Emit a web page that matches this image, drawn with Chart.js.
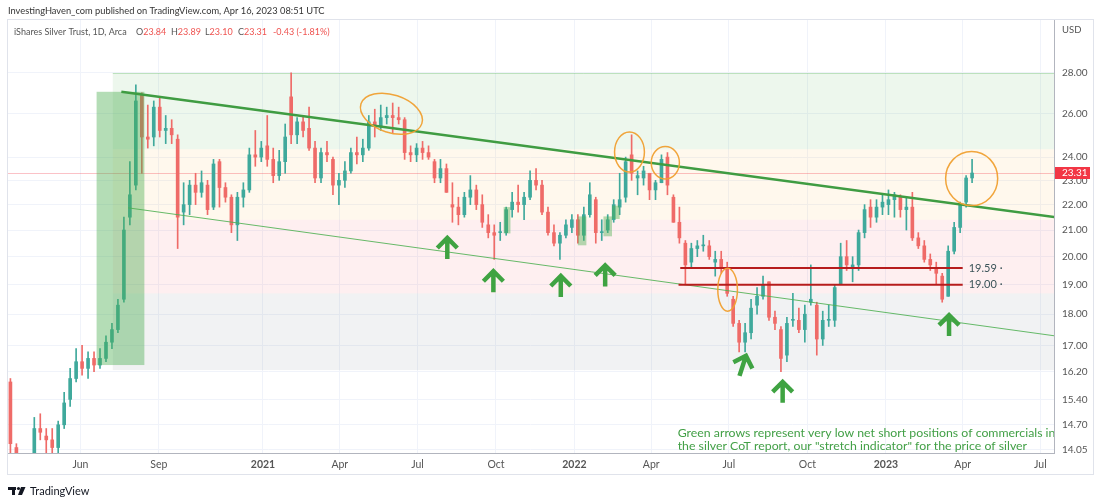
<!DOCTYPE html>
<html>
<head>
<meta charset="utf-8">
<script src="https://cdn.jsdelivr.net/npm/chart.js@4.4.1/dist/chart.umd.min.js"></script>
<style>
  html, body { margin: 0; padding: 0; background: #fff; }
  canvas { display: block; }
</style>
</head>
<body>
<canvas id="chart" width="1100" height="501"></canvas>
<script>
// weekly candles of SLV (iShares Silver Trust), week of 2020-03-09 .. week of 2023-04-10
const firstWeek = '2020-03-11';

const opens = [
  15.9, 14.1, 11.8, 13.2, 13.7, 14.6, 14.4, 14.3, 14.1, 14.7,
  15.4, 16.0, 16.5, 16.3, 16.6, 16.4, 16.6, 17.1, 17.5, 18.5,
  21.5, 22.8, 26.9, 24.9, 24.9, 26.3, 25.2, 25.3, 24.8, 21.7,
  22.0, 22.8, 22.5, 22.8, 21.9, 23.8, 22.7, 22.3, 21.2, 22.3,
  22.6, 24.1, 24.0, 24.5, 23.9, 23.2, 23.8, 26.8, 25.0, 25.6,
  25.3, 24.4, 23.1, 24.2, 23.9, 22.8, 23.0, 23.4, 24.2, 24.1,
  24.4, 25.6, 25.4, 25.8, 25.9, 25.8, 25.7, 24.2, 24.1, 24.4,
  24.2, 23.8, 23.1, 23.5, 22.0, 21.9, 21.6, 22.3, 22.6, 22.0,
  21.2, 20.9, 20.9, 20.9, 21.8, 22.1, 22.0, 22.3, 23.0, 22.8,
  21.7, 20.9, 20.5, 20.8, 21.1, 21.4, 20.8, 21.6, 22.2, 20.9,
  21.0, 21.4, 21.9, 22.3, 24.1, 23.1, 23.1, 23.3, 22.6, 22.9,
  24.0, 22.3, 21.3, 20.5, 19.8, 20.3, 20.4, 20.4, 19.8, 19.9,
  19.6, 18.5, 17.7, 17.1, 17.4, 18.3, 18.6, 19.1, 17.9, 17.5,
  16.7, 17.8, 17.8, 17.5, 18.4, 18.3, 17.2, 17.8, 17.8, 19.0,
  20.0, 19.6, 19.7, 20.9, 21.9, 21.5, 21.9, 22.0, 22.2, 22.3,
  21.8, 21.9, 20.7, 20.4, 19.9, 19.6, 19.3, 18.6, 20.2, 21.1,
  22.1, 23.1
];
const highs = [
  16.0, 14.2, 13.6, 13.8, 14.9, 15.0, 14.6, 14.6, 14.8, 15.6,
  16.3, 16.9, 17.0, 16.8, 16.8, 16.9, 17.3, 17.7, 18.5, 21.5,
  23.8, 27.4, 27.0, 26.4, 26.6, 26.8, 25.9, 25.7, 25.0, 22.9,
  23.0, 23.3, 23.4, 23.0, 23.9, 23.9, 22.9, 22.4, 22.5, 22.9,
  24.4, 25.2, 24.7, 25.9, 24.4, 24.3, 25.5, 28.0, 25.8, 25.9,
  26.3, 24.7, 24.4, 24.7, 24.0, 23.3, 23.8, 24.4, 24.9, 24.8,
  25.9, 26.2, 26.4, 26.3, 26.5, 26.3, 25.8, 24.5, 24.6, 24.7,
  24.5, 23.9, 23.9, 23.7, 22.9, 22.3, 22.5, 23.2, 22.8, 22.4,
  21.6, 21.2, 21.3, 21.9, 22.5, 22.8, 22.5, 23.4, 23.5, 23.0,
  21.9, 21.2, 20.9, 21.4, 21.6, 21.6, 21.9, 22.9, 22.3, 21.4,
  21.6, 22.2, 23.3, 24.0, 25.0, 23.4, 23.6, 23.3, 23.0, 24.1,
  24.2, 22.4, 21.9, 20.6, 20.5, 20.6, 20.8, 20.6, 20.2, 20.2,
  19.8, 18.6, 17.8, 17.7, 18.5, 18.9, 19.3, 19.1, 18.1, 17.6,
  17.9, 18.7, 18.2, 18.3, 19.7, 18.4, 18.1, 18.3, 19.0, 20.5,
  20.6, 20.0, 21.0, 22.0, 22.2, 22.2, 22.4, 22.6, 22.5, 22.4,
  22.3, 22.5, 20.9, 20.6, 20.1, 19.8, 19.4, 20.4, 21.3, 22.1,
  23.2, 23.9
];
const lows = [
  13.6, 10.9, 11.7, 13.0, 13.6, 14.3, 13.9, 13.9, 13.9, 14.6,
  15.2, 15.9, 16.1, 16.0, 16.2, 16.3, 16.5, 16.9, 17.4, 18.4,
  21.2, 22.6, 23.3, 24.4, 24.5, 24.9, 24.6, 24.6, 20.3, 21.2,
  21.6, 22.0, 22.3, 21.6, 21.8, 21.9, 22.1, 20.9, 20.6, 21.9,
  22.5, 23.6, 23.8, 23.6, 22.9, 23.0, 23.3, 24.6, 24.6, 24.9,
  24.3, 22.9, 22.9, 23.8, 22.4, 22.0, 22.7, 23.3, 23.7, 23.8,
  24.3, 24.9, 25.2, 25.5, 25.1, 25.5, 23.9, 23.8, 23.8, 23.9,
  23.9, 22.9, 22.9, 22.5, 21.3, 21.2, 21.5, 22.0, 21.8, 21.1,
  20.7, 19.9, 20.6, 20.8, 21.5, 21.7, 21.4, 22.2, 22.6, 21.6,
  20.8, 20.4, 19.9, 20.7, 20.9, 20.5, 20.6, 21.5, 20.5, 20.6,
  20.9, 21.3, 21.6, 22.1, 23.0, 22.4, 22.8, 22.2, 22.2, 22.9,
  22.4, 21.3, 20.5, 19.0, 19.6, 20.0, 20.2, 19.9, 19.3, 19.4,
  18.6, 17.6, 16.8, 16.8, 17.2, 18.0, 18.5, 17.8, 17.5, 16.2,
  16.5, 17.6, 17.4, 17.1, 18.3, 16.7, 17.0, 17.6, 17.6, 19.0,
  19.5, 19.1, 19.5, 20.7, 21.1, 21.3, 21.6, 21.6, 21.5, 21.5,
  21.0, 20.6, 20.3, 19.8, 19.5, 19.0, 18.4, 18.6, 20.1, 20.9,
  21.9, 22.9
];
const closes = [
  14.2, 11.6, 13.2, 13.6, 14.6, 14.5, 14.3, 14.1, 14.7, 15.3,
  16.0, 16.5, 16.3, 16.6, 16.4, 16.6, 17.1, 17.5, 18.3, 21.0,
  22.4, 26.6, 24.9, 24.8, 26.3, 25.2, 25.3, 25.0, 21.5, 22.0,
  22.8, 22.5, 22.9, 21.8, 23.7, 22.7, 22.3, 21.2, 22.3, 22.6,
  24.1, 24.0, 24.4, 23.9, 23.2, 23.8, 24.9, 25.0, 25.6, 25.2,
  24.4, 23.1, 24.2, 24.1, 22.8, 23.0, 23.4, 24.2, 24.1, 24.4,
  25.6, 25.4, 25.8, 25.9, 25.8, 25.7, 24.2, 24.1, 24.4, 24.2,
  24.0, 23.1, 23.5, 22.5, 21.9, 21.6, 22.3, 22.6, 22.0, 21.3,
  20.9, 20.8, 20.9, 21.8, 22.1, 22.0, 22.3, 23.0, 22.8, 21.7,
  20.9, 20.5, 20.8, 21.2, 21.4, 20.8, 21.6, 22.4, 20.9, 20.9,
  21.4, 22.0, 22.2, 23.8, 23.3, 23.2, 23.4, 22.6, 22.9, 23.9,
  22.8, 21.3, 20.7, 19.7, 20.3, 20.4, 20.4, 20.0, 19.9, 19.6,
  18.7, 17.7, 17.1, 17.4, 18.2, 18.6, 19.0, 17.9, 17.7, 16.6,
  17.7, 17.8, 17.5, 18.0, 18.5, 17.2, 17.8, 17.8, 18.9, 20.0,
  19.7, 19.7, 20.9, 21.8, 21.5, 21.9, 22.1, 22.2, 22.4, 21.8,
  21.9, 20.7, 20.4, 19.9, 19.7, 19.4, 18.5, 20.2, 21.1, 22.0,
  23.1, 23.31
];

const yTicks = [14.05, 14.7, 15.4, 16.2, 17, 18, 19, 20, 21, 22, 23, 24, 26, 28];
const xTicks = [
  ['2020-06-01', 'Jun'], ['2020-09-01', 'Sep'], ['2021-01-01', '2021'],
  ['2021-04-01', 'Apr'], ['2021-07-01', 'Jul'], ['2021-10-01', 'Oct'],
  ['2022-01-01', '2022'], ['2022-04-01', 'Apr'], ['2022-07-01', 'Jul'],
  ['2022-10-01', 'Oct'], ['2023-01-01', '2023'], ['2023-04-01', 'Apr'],
  ['2023-07-01', 'Jul']
];
const lastPrice = 23.31;
const redLevels = [[19.59, '2022-05-05'], [19.00, '2022-05-03']];
const redLevelsEnd = '2023-04-01';

// drawings (in date / price terms)
const bands = [
  [28, 24.35, 'rgba(76,175,80,0.10)'],
  [24.35, 21.4, 'rgba(255,183,77,0.10)'],
  [21.4, 18.7, 'rgba(242,54,69,0.08)'],
  [18.7, 16.25, 'rgba(120,123,134,0.10)']
];
const bandsFrom = '2020-07-09';
const greenBoxes = [
  ['2020-06-20', '2020-08-15', 27.05, 16.4],
  ['2021-10-10', '2021-10-18', 21.9, 20.87],
  ['2022-01-05', '2022-01-15', 21.53, 20.42],
  ['2022-02-04', '2022-02-14', 21.53, 20.76],
  ['2022-02-14', '2022-02-23', 21.96, 21.43]
];
const trendLines = [
  ['2020-07-19', 27.05, '2023-07-18', 21.5, 2.5, '#3f9c42'],
  ['2020-07-27', 21.87, '2023-07-18', 17.3, 1, 'rgba(76,175,80,0.85)']
];
const ellipses = [
  ['2021-04-24', '2021-07-08', 26.9, 25.1, 18],
  ['2022-02-17', '2022-03-24', 25.13, 23.35, 0],
  ['2022-04-01', '2022-05-04', 24.47, 23.06, 0],
  ['2022-06-18', '2022-07-11', 19.58, 18.1, 0],
  ['2023-03-12', '2023-05-12', 24.25, 21.96, 0]
];
const arrows = [
  ['2021-08-05', 20.81, 0], ['2021-09-28', 19.58, 0], ['2021-12-16', 19.41, 0],
  ['2022-02-06', 19.79, 0], ['2022-07-21', 16.77, 18], ['2022-09-02', 15.99, 0],
  ['2023-03-16', 18.07, 0]
];
const note = [
  'Green arrows represent very low net short positions of commercials in',
  'the silver CoT report, our "stretch indicator" for the price of silver'
];

const day = s => Date.UTC(+s.slice(0, 4), +s.slice(5, 7) - 1, +s.slice(8, 10)) / 864e5;
const weeks = opens.map((_, i) => day(firstWeek) + 7 * i);
const xLabel = {};
xTicks.forEach(t => { xLabel[day(t[0])] = t[1]; });

const upColor = '#3fa99c';
const downColor = '#ef6b68';
const candleColors = opens.map((o, i) => closes[i] >= o ? upColor : downColor);

const drawings = {
  id: 'drawings',
  beforeDatasetsDraw(chart) {
    const {ctx, chartArea: a, scales: {x, y}} = chart;
    ctx.save();
    ctx.beginPath();
    ctx.rect(a.left, a.top, a.right - a.left, a.bottom - a.top);
    ctx.clip();
    const x0 = x.getPixelForValue(day(bandsFrom));
    bands.forEach(([hi, lo, c]) => {
      const y1 = y.getPixelForValue(hi), y2 = y.getPixelForValue(lo);
      ctx.fillStyle = c;
      ctx.fillRect(x0, y1, a.right - x0, y2 - y1);
    });
    ctx.strokeStyle = 'rgba(76,175,80,0.3)';
    ctx.lineWidth = 1;
    ctx.beginPath();
    ctx.moveTo(x0, Math.round(y.getPixelForValue(28)) + 0.5);
    ctx.lineTo(a.right, Math.round(y.getPixelForValue(28)) + 0.5);
    ctx.stroke();
    // last price line
    const py = Math.round(y.getPixelForValue(lastPrice)) + 0.5;
    ctx.strokeStyle = 'rgba(242,54,69,0.3)';
    ctx.beginPath();
    ctx.moveTo(a.left, py);
    ctx.lineTo(a.right, py);
    ctx.stroke();
    ctx.restore();
  },
  afterDatasetsDraw(chart) {
    const {ctx, chartArea: a, scales: {x, y}} = chart;
    ctx.save();
    ctx.beginPath();
    ctx.rect(a.left, a.top, a.right - a.left, a.bottom - a.top);
    ctx.clip();

    ctx.fillStyle = 'rgba(76,175,80,0.42)';
    greenBoxes.forEach(([d1, d2, hi, lo]) => {
      const x1 = x.getPixelForValue(day(d1)), x2 = x.getPixelForValue(day(d2));
      const y1 = y.getPixelForValue(hi), y2 = y.getPixelForValue(lo);
      ctx.fillRect(x1, y1, x2 - x1, y2 - y1);
    });

    trendLines.forEach(([d1, v1, d2, v2, w, c]) => {
      ctx.strokeStyle = c;
      ctx.lineWidth = w;
      ctx.beginPath();
      ctx.moveTo(x.getPixelForValue(day(d1)), y.getPixelForValue(v1));
      ctx.lineTo(x.getPixelForValue(day(d2)), y.getPixelForValue(v2));
      ctx.stroke();
    });

    const xEnd = x.getPixelForValue(day(redLevelsEnd));
    redLevels.forEach(([v, d]) => {
      const ly = y.getPixelForValue(v);
      ctx.strokeStyle = '#b71c1c';
      ctx.lineWidth = 2;
      ctx.beginPath();
      ctx.moveTo(x.getPixelForValue(day(d)), ly);
      ctx.lineTo(xEnd, ly);
      ctx.stroke();
      ctx.fillStyle = '#3b5459';
      ctx.font = '11px Lato';
      ctx.textBaseline = 'middle';
      ctx.textAlign = 'left';
      ctx.fillText(v.toFixed(2) + ' \u00b7', xEnd + 6, ly);
    });

    ctx.strokeStyle = 'rgba(240,160,50,0.95)';
    ctx.lineWidth = 1.5;
    ellipses.forEach(([d1, d2, hi, lo, rot]) => {
      const x1 = x.getPixelForValue(day(d1)), x2 = x.getPixelForValue(day(d2));
      const y1 = y.getPixelForValue(hi), y2 = y.getPixelForValue(lo);
      ctx.beginPath();
      ctx.ellipse((x1 + x2) / 2, (y1 + y2) / 2, (x2 - x1) / 2, (y2 - y1) / 2, rot * Math.PI / 180, 0, Math.PI * 2);
      ctx.stroke();
    });

    ctx.strokeStyle = '#3fa342';
    ctx.lineWidth = 4.5;
    ctx.lineJoin = 'miter';
    arrows.forEach(([d, v, rot]) => {
      ctx.save();
      ctx.translate(x.getPixelForValue(day(d)), y.getPixelForValue(v) + 3);
      ctx.rotate(rot * Math.PI / 180);
      ctx.beginPath();
      ctx.moveTo(-10, 10);
      ctx.lineTo(0, 0);
      ctx.lineTo(10, 10);
      ctx.moveTo(0, 0);
      ctx.lineTo(0, 21);
      ctx.stroke();
      ctx.restore();
    });

    ctx.fillStyle = '#43a047';
    ctx.font = '12.3px Lato';
    ctx.textAlign = 'left';
    ctx.textBaseline = 'middle';
    const nx = x.getPixelForValue(day('2022-05-02'));
    const ny = y.getPixelForValue(14.55) + 3;
    note.forEach((t, i) => ctx.fillText(t, nx, ny + i * 13));
    ctx.restore();
  },
  afterDraw(chart) {
    const {ctx, chartArea: a, scales: {y}} = chart;
    ctx.save();
    // frame
    ctx.strokeStyle = '#e0e3eb';
    ctx.lineWidth = 1;
    ctx.strokeRect(7.5, 19.5, 1086, 455);

    ctx.textBaseline = 'middle';
    ctx.textAlign = 'left';
    ctx.fillStyle = '#333';
    ctx.font = '9.3px Lato';
    ctx.fillText('InvestingHaven_com published on TradingView.com, Apr 16, 2023 08:51 UTC', 8, 11);

    ctx.font = '9px Lato';
    ctx.fillStyle = '#555';
    ctx.fillText('iShares Silver Trust, 1D, Arca', 14, 32);
    [['O', '23.84', 136], ['H', '23.89', 171], ['L', '23.10', 205], ['C', '23.31', 238]].forEach(([k, v, px]) => {
      ctx.fillStyle = '#555';
      ctx.fillText(k, px, 32);
      ctx.fillStyle = '#ef5350';
      ctx.fillText(v, px + ctx.measureText(k).width, 32);
    });
    ctx.fillText('-0.43 (-1.81%)', 273, 32);

    ctx.fillStyle = '#555';
    ctx.font = '9.5px Lato';
    ctx.fillText('USD', a.right + 8, 30);

    // last price tag
    const py = Math.round(y.getPixelForValue(lastPrice));
    ctx.fillStyle = '#f23645';
    ctx.fillRect(a.right + 1, py - 6, 35, 12);
    ctx.fillStyle = '#fff';
    ctx.font = '10px Lato';
    ctx.fillText(lastPrice.toFixed(2), a.right + 8, py);

    // TradingView logo
    ctx.fillStyle = '#131722';
    ctx.fillRect(8, 487, 8, 3);
    ctx.fillRect(12, 487, 3, 8);
    ctx.beginPath();
    ctx.arc(18.5, 488.5, 1.6, 0, Math.PI * 2);
    ctx.fill();
    ctx.beginPath();
    ctx.moveTo(21, 487); ctx.lineTo(25.5, 487); ctx.lineTo(22, 495); ctx.lineTo(18, 495);
    ctx.fill();
    ctx.font = '11px Lato';
    ctx.fillText('TradingView', 30, 491);
    ctx.restore();
  }
};

new Chart(document.getElementById('chart'), {
  type: 'bar',
  data: {
    datasets: [
      {
        data: weeks.map((w, i) => ({x: w, y: [lows[i], highs[i]]})),
        backgroundColor: candleColors,
        barThickness: 1,
        grouped: false,
        clip: 0,
        order: 2
      },
      {
        data: weeks.map((w, i) => ({x: w, y: [opens[i], closes[i]]})),
        backgroundColor: candleColors,
        barThickness: 3,
        minBarLength: 1,
        grouped: false,
        clip: 0,
        order: 1
      }
    ]
  },
  options: {
    responsive: false,
    animation: false,
    layout: {padding: {left: 7, top: 20, right: 7, bottom: 27}},
    plugins: {legend: {display: false}, tooltip: {enabled: false}},
    scales: {
      x: {
        type: 'linear',
        min: day('2020-03-07'),
        max: day('2023-07-17'),
        offset: false,
        afterBuildTicks: s => { s.ticks = xTicks.map(t => ({value: day(t[0])})); },
        afterFit: s => { s.height = 21; s.paddingLeft = 0; s.paddingRight = 0; },
        grid: {color: '#f0f3fa', drawTicks: false, offset: false},
        border: {color: '#b2b5be'},
        ticks: {
          autoSkip: false,
          maxRotation: 0,
          padding: 5,
          color: '#555',
          font: c => ({family: 'Lato', size: 10.5, weight: c.tick && /^\d{4}$/.test(xLabel[c.tick.value]) ? 'bold' : 'normal'}),
          callback: v => xLabel[v]
        }
      },
      y: {
        type: 'logarithmic',
        position: 'right',
        min: 13.96,
        max: 30.85,
        afterBuildTicks: s => { s.ticks = yTicks.map(v => ({value: v})); },
        afterFit: s => { s.width = 39; s.paddingTop = 0; s.paddingBottom = 0; },
        grid: {color: '#f0f3fa', drawTicks: false},
        border: {color: '#b2b5be'},
        ticks: {
          autoSkip: false,
          padding: 8,
          color: '#555',
          font: {family: 'Lato', size: 10},
          callback: v => Number(v).toFixed(2)
        }
      }
    }
  },
  plugins: [drawings]
});
</script>
</body>
</html>
